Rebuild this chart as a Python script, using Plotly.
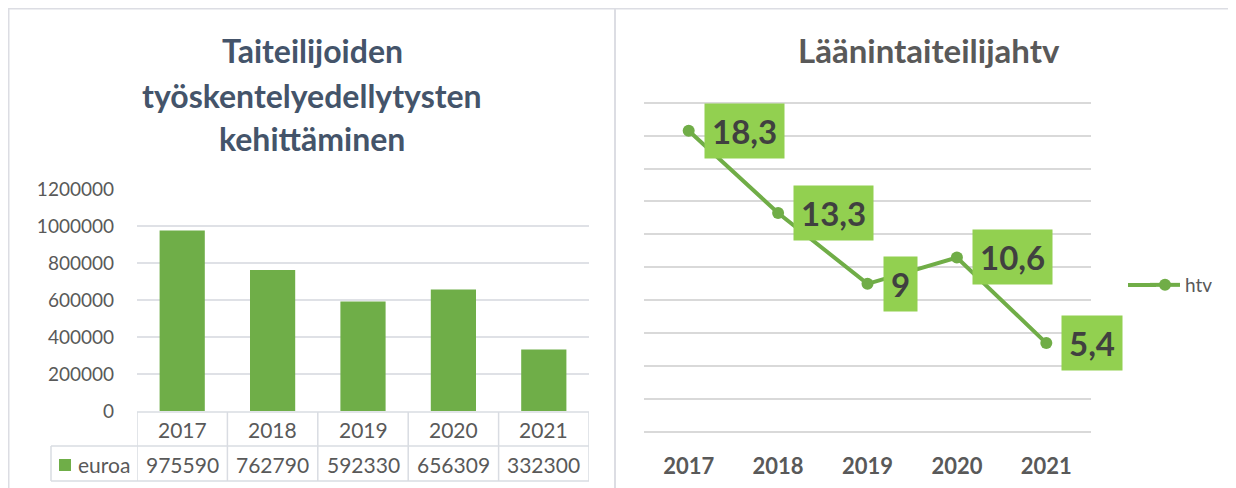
import plotly.graph_objects as go

# ---------------- data ----------------
years = ["2017", "2018", "2019", "2020", "2021"]
euroa = [975590, 762790, 592330, 656309, 332300]
euroa_labels = ["975590", "762790", "592330", "656309", "332300"]
htv = [18.3, 13.3, 9, 10.6, 5.4]
htv_labels = ["18,3", "13,3", "9", "10,6", "5,4"]
left_title_lines = ["Taiteilijoiden", "työskentelyedellytysten", "kehittäminen"]
right_title = "Läänintaiteilijahtv"
bar_series_name = "euroa"
line_series_name = "htv"
left_yticks = [0, 200000, 400000, 600000, 800000, 1000000, 1200000]

W, H = 1236, 488
OX, OY = 8, 8   # page body margin offset
FONT = "Lato"

def px(x):
    return (x - OX) / W

def py(y):
    return 1 - (y - OY) / H

# axis pixel geometry (target picture coordinates)
L_bot, L_top, L_max = 411, 189, 1200000
L_pad = 5000
L_s = (L_bot - L_top) / L_max
R_bot, R_top, R_max = 432, 102.7, 20
R_pad = 0.1
R_s = (R_bot - R_top) / R_max

LINE_GREEN = "#70AD47"
BAR_GREEN = "#6FAE48"

fig = go.Figure()

fig.add_trace(go.Bar(
    x=years, y=euroa, name=bar_series_name,
    marker=dict(color=BAR_GREEN, line=dict(width=0)),
    xaxis="x", yaxis="y", showlegend=False,
))

fig.add_trace(go.Scatter(
    x=years, y=htv, name=line_series_name, mode="lines+markers",
    line=dict(color=LINE_GREEN, width=4),
    marker=dict(color=LINE_GREEN, size=12),
    xaxis="x2", yaxis="y2", showlegend=True,
))

grid_left = "#DFE1E6"
grid_right = "#D9D9D9"
n = len(years)

fig.update_layout(
    width=W, height=H,
    margin=dict(l=0, r=0, t=0, b=0, autoexpand=False),
    paper_bgcolor="white", plot_bgcolor="white",
    font=dict(family=FONT, color="#595959"),
    bargap=0.5,
    xaxis=dict(domain=[px(137), px(589)], type="category", range=[-0.5, n - 0.5],
               showticklabels=False, automargin=False,
               showgrid=False, zeroline=False, showline=False, ticks=""),
    yaxis=dict(domain=[py(L_bot + L_pad * L_s), py(L_top - L_pad * L_s)],
               range=[-L_pad, L_max + L_pad], automargin=False,
               tickvals=left_yticks, ticktext=[str(v) for v in left_yticks],
               showgrid=True, gridcolor=grid_left, gridwidth=1.5,
               zeroline=False, showline=False, ticks="",
               tickfont=dict(family=FONT, size=19, color="#595959"),
               ticklabelstandoff=22),
    xaxis2=dict(domain=[px(644), px(1091)], type="category", anchor="y2",
                range=[-0.5, n - 0.5], automargin=False,
                showgrid=False, zeroline=False, showline=False, ticks="",
                tickfont=dict(family=FONT, size=22, color="#595959", weight="bold"),
                ticklabelstandoff=17),
    yaxis2=dict(domain=[py(R_bot + R_pad * R_s), py(R_top - R_pad * R_s)],
                range=[-R_pad, R_max + R_pad], anchor="x2", automargin=False,
                dtick=2, tick0=0, showticklabels=False, showgrid=True,
                gridcolor=grid_right, gridwidth=1.5, zeroline=False,
                showline=False, ticks=""),
    legend=dict(x=px(1145), y=py(285), xanchor="left", yanchor="middle",
                font=dict(family=FONT, size=19, color="#595959"),
                bgcolor="rgba(0,0,0,0)", itemwidth=30),
)

annotations = []
# Left title
for txt, yc in zip(left_title_lines, [50, 95, 138]):
    annotations.append(dict(text=txt, x=px(312), y=py(yc), xref="paper", yref="paper",
                            xanchor="center", yanchor="middle", showarrow=False,
                            font=dict(family=FONT, size=32, color="#44546A", weight="bold")))
# Right title
annotations.append(dict(text=right_title, x=px(929), y=py(50), xref="paper", yref="paper",
                        xanchor="center", yanchor="middle", showarrow=False,
                        font=dict(family=FONT, size=33, color="#595959", weight="bold")))

# Data labels on the line (x given as category index)
for i, (v, lab) in enumerate(zip(htv, htv_labels)):
    annotations.append(dict(text=lab, x=i, y=v, xref="x2", yref="y2",
                            xanchor="left", yanchor="middle", xshift=15,
                            showarrow=False, bgcolor="#92D050", borderpad=7,
                            font=dict(family=FONT, size=33, color="#404040", weight="bold")))

# Data table: category row and value row
for i, (yr, lab) in enumerate(zip(years, euroa_labels)):
    annotations.append(dict(text=yr, x=i, y=py(429), xref="x", yref="paper",
                            xanchor="center", yanchor="middle", showarrow=False,
                            font=dict(family=FONT, size=21, color="#595959")))
    annotations.append(dict(text=lab, x=i, y=py(464), xref="x", yref="paper",
                            xanchor="center", yanchor="middle", showarrow=False,
                            font=dict(family=FONT, size=21, color="#595959")))
annotations.append(dict(text=bar_series_name, x=px(76), y=py(464), xref="paper", yref="paper",
                        xanchor="left", yanchor="middle", showarrow=False,
                        font=dict(family=FONT, size=21, color="#595959")))
fig.update_layout(annotations=annotations)

tbl = "#D9DCE2"
shapes = []
# vertical table lines
for i in range(n + 1):
    shapes.append(dict(type="line", xref="x", yref="paper", x0=i - 0.5, x1=i - 0.5,
                       y0=py(412), y1=py(481), line=dict(color=tbl, width=1.5)))
# horizontal table lines
shapes.append(dict(type="line", xref="x", yref="paper", x0=-0.5, x1=n - 0.5,
                   y0=py(412), y1=py(412), line=dict(color=tbl, width=1.5)))
shapes.append(dict(type="line", xref="paper", yref="paper", x0=px(51), x1=px(589),
                   y0=py(446), y1=py(446), line=dict(color=tbl, width=1.5)))
shapes.append(dict(type="line", xref="paper", yref="paper", x0=px(51), x1=px(589),
                   y0=py(481), y1=py(481), line=dict(color=tbl, width=1.5)))
shapes.append(dict(type="line", xref="paper", yref="paper", x0=px(51), x1=px(51),
                   y0=py(446), y1=py(481), line=dict(color=tbl, width=1.5)))
# legend key square in the table
shapes.append(dict(type="rect", xref="paper", yref="paper", x0=px(59), x1=px(71),
                   y0=py(471), y1=py(459), fillcolor=BAR_GREEN, line=dict(width=0)))
# longer legend key line (Excel-style)
shapes.append(dict(type="line", xref="paper", yref="paper", x0=px(1128), x1=px(1156),
                   y0=py(285), y1=py(285), line=dict(color=LINE_GREEN, width=4)))
# panel borders
border = "#DCDDE3"
shapes.append(dict(type="line", xref="paper", yref="paper", x0=px(7), x1=1,
                   y0=py(8.5), y1=py(8.5), line=dict(color=border, width=2)))
shapes.append(dict(type="line", xref="paper", yref="paper", x0=px(8.5), x1=px(8.5),
                   y0=py(8), y1=0, line=dict(color=border, width=2)))
shapes.append(dict(type="line", xref="paper", yref="paper", x0=px(615), x1=px(615),
                   y0=py(8), y1=0, line=dict(color=border, width=2)))
fig.update_layout(shapes=shapes)

fig.write_html("out.html")
